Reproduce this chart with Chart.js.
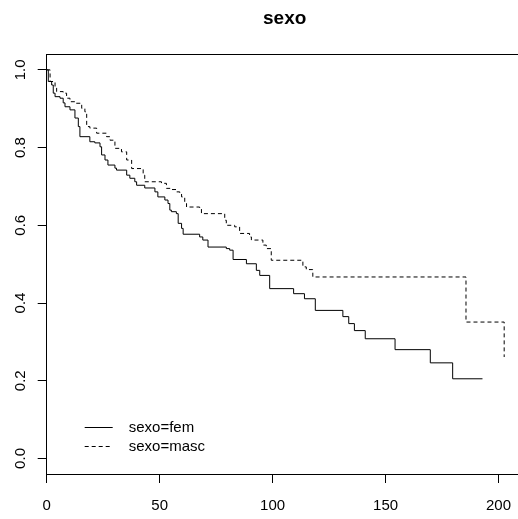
<!DOCTYPE html>
<html>
<head>
<meta charset="utf-8">
<script src="https://cdn.jsdelivr.net/npm/chart.js@4/dist/chart.umd.min.js"></script>
<style>
  html, body { margin: 0; padding: 0; background: #fff; overflow: hidden; }
  #wrap { width: 518px; height: 519px; overflow: hidden; }
</style>
</head>
<body>
<div id="wrap"><canvas id="km" width="540" height="519"></canvas></div>
<script>
/* Kaplan-Meier curves by sexo */
const TITLE = 'sexo';

/* sexo=fem : drop times and survival after each drop */
const femTime = [0, 0.7, 2.2, 2.9, 3.7, 5.9, 7.3, 8.1, 10.3, 12.5, 14.0, 14.7, 19.1, 21.3, 23.6, 24.3,
  25.8, 27.1, 30.2, 30.9, 35.4, 36.8, 39.0, 39.8, 43.4, 47.9, 49.2, 52.3, 53.7, 54.5, 55.2, 57.4,
  58.2, 59.7, 60.4, 67.7, 69.1, 71.4, 79.5, 81.0, 82.5, 88.4, 92.8, 94.3, 98.7, 109.3, 114.1,
  118.9, 131.1, 133.7, 136.2, 141.0, 154.2, 169.8, 179.7, 192.9];
const femSurv = [1.0, 0.970, 0.961, 0.940, 0.931, 0.927, 0.915, 0.905, 0.897, 0.876, 0.854, 0.828, 0.815, 0.812, 0.802, 0.781,
  0.768, 0.755, 0.747, 0.742, 0.729, 0.721, 0.712, 0.703, 0.696, 0.686, 0.673, 0.665, 0.656, 0.639, 0.635, 0.630,
  0.605, 0.592, 0.577, 0.570, 0.562, 0.544, 0.540, 0.536, 0.512, 0.501, 0.484, 0.471, 0.437, 0.424, 0.411,
  0.381, 0.365, 0.347, 0.329, 0.308, 0.280, 0.246, 0.205, 0.205];

/* sexo=masc */
const mascTime = [0, 1.5, 3.7, 4.4, 7.3, 8.8, 10.3, 12.5, 15.5, 16.9, 17.7, 19.1, 22.1, 26.5, 28.0, 30.2,
  33.1, 35.4, 37.6, 42.7, 43.4, 50.8, 53.0, 55.2, 57.4, 58.9, 59.7, 61.1, 61.9, 67.7, 68.5, 78.8,
  79.5, 83.2, 85.4, 89.8, 90.6, 95.7, 97.2, 99.4, 113.4, 114.9, 117.8, 185.6, 202.5];
const mascSurv = [1.0, 0.970, 0.957, 0.944, 0.940, 0.927, 0.918, 0.914, 0.901, 0.892, 0.854, 0.850, 0.837, 0.828, 0.819, 0.798,
  0.789, 0.768, 0.746, 0.729, 0.712, 0.708, 0.695, 0.692, 0.686, 0.682, 0.673, 0.656, 0.647, 0.643, 0.630, 0.613,
  0.600, 0.596, 0.579, 0.570, 0.562, 0.549, 0.540, 0.510, 0.493, 0.486, 0.467, 0.351, 0.261];

const seriesLabels = ['sexo=fem', 'sexo=masc'];
const xTicks = [0, 50, 100, 150, 200];
const yTicks = [0, 0.2, 0.4, 0.6, 0.8, 1.0];

const FONT = 'Liberation Sans, Arial, Helvetica, sans-serif';

const toPts = (ts, ss) => ts.map((t, i) => ({ x: t, y: ss[i] }));

/* Top and right sides of the box (left/bottom come from the axis borders) */
const boxPlugin = {
  id: 'box',
  afterDraw(chart) {
    const { ctx, chartArea: a } = chart;
    const top = Math.round(a.top) + 0.5, right = Math.round(a.right) + 0.5;
    ctx.save();
    ctx.strokeStyle = '#000';
    ctx.lineWidth = 1;
    ctx.beginPath();
    ctx.moveTo(a.left, top);
    ctx.lineTo(right, top);
    ctx.lineTo(right, a.bottom);
    ctx.stroke();
    ctx.restore();
  }
};

/* Line-sample legend in the bottom-left corner of the plot */
const lineLegend = {
  id: 'lineLegend',
  afterDatasetsDraw(chart) {
    const { ctx, chartArea: a } = chart;
    const x0 = a.left + 38, x1 = a.left + 66, tx = a.left + 82;
    const rows = [a.bottom - 47, a.bottom - 28.5];
    ctx.save();
    chart.data.datasets.forEach((ds, i) => {
      const y = Math.round(rows[i]) + 0.5;
      ctx.strokeStyle = ds.borderColor;
      ctx.lineWidth = ds.borderWidth;
      ctx.setLineDash(ds.borderDash || []);
      ctx.beginPath();
      ctx.moveTo(x0, y);
      ctx.lineTo(x1, y);
      ctx.stroke();
      ctx.setLineDash([]);
      ctx.fillStyle = '#000';
      ctx.font = '15px ' + FONT;
      ctx.textBaseline = 'middle';
      ctx.textAlign = 'left';
      ctx.fillText(ds.label, tx, y);
    });
    ctx.restore();
  }
};

new Chart(document.getElementById('km'), {
  type: 'line',
  data: {
    datasets: [
      {
        label: seriesLabels[0],
        data: toPts(femTime, femSurv),
        borderColor: '#000',
        borderWidth: 1,
        stepped: 'before',
        pointRadius: 0,
        fill: false,
      },
      {
        label: seriesLabels[1],
        data: toPts(mascTime, mascSurv),
        borderColor: '#000',
        borderWidth: 1,
        borderDash: [4, 3],
        stepped: 'before',
        pointRadius: 0,
        fill: false,
      },
    ],
  },
  options: {
    responsive: false,
    animation: false,
    layout: { padding: { left: 0, right: 17.3, top: 0, bottom: 0 } },
    plugins: {
      legend: { display: false },
      tooltip: { enabled: false },
      title: {
        display: true,
        text: TITLE,
        fullSize: false,
        color: '#000',
        font: { family: FONT, size: 19, weight: 'bold' },
        padding: { top: 7.6, bottom: 23.9 },
      },
    },
    scales: {
      x: {
        type: 'linear',
        min: 0,
        max: 210.7,
        afterBuildTicks: s => { s.ticks = xTicks.map(v => ({ value: v })); },
        afterFit: s => { s.height = 45; },
        ticks: {
          autoSkip: false,
          maxRotation: 0,
          color: '#000',
          padding: 14,
          font: { family: FONT, size: 15 },
          callback: v => String(v),
        },
        grid: { drawOnChartArea: false, tickLength: 9, color: '#000', lineWidth: 1 },
        border: { display: true, color: '#000', width: 1 },
      },
      y: {
        type: 'linear',
        min: -0.04,
        max: 1.04,
        afterBuildTicks: s => { s.ticks = yTicks.map(v => ({ value: v })); },
        afterFit: s => { s.width = 46.7; },
        ticks: {
          autoSkip: false,
          minRotation: 90,
          maxRotation: 90,
          crossAlign: 'center',
          color: '#000',
          padding: 6,
          font: { family: FONT, size: 15 },
          callback: v => v.toFixed(1),
        },
        grid: { drawOnChartArea: false, tickLength: 9, color: '#000', lineWidth: 1 },
        border: { display: true, color: '#000', width: 1 },
      },
    },
  },
  plugins: [boxPlugin, lineLegend],
});
</script>
</body>
</html>
